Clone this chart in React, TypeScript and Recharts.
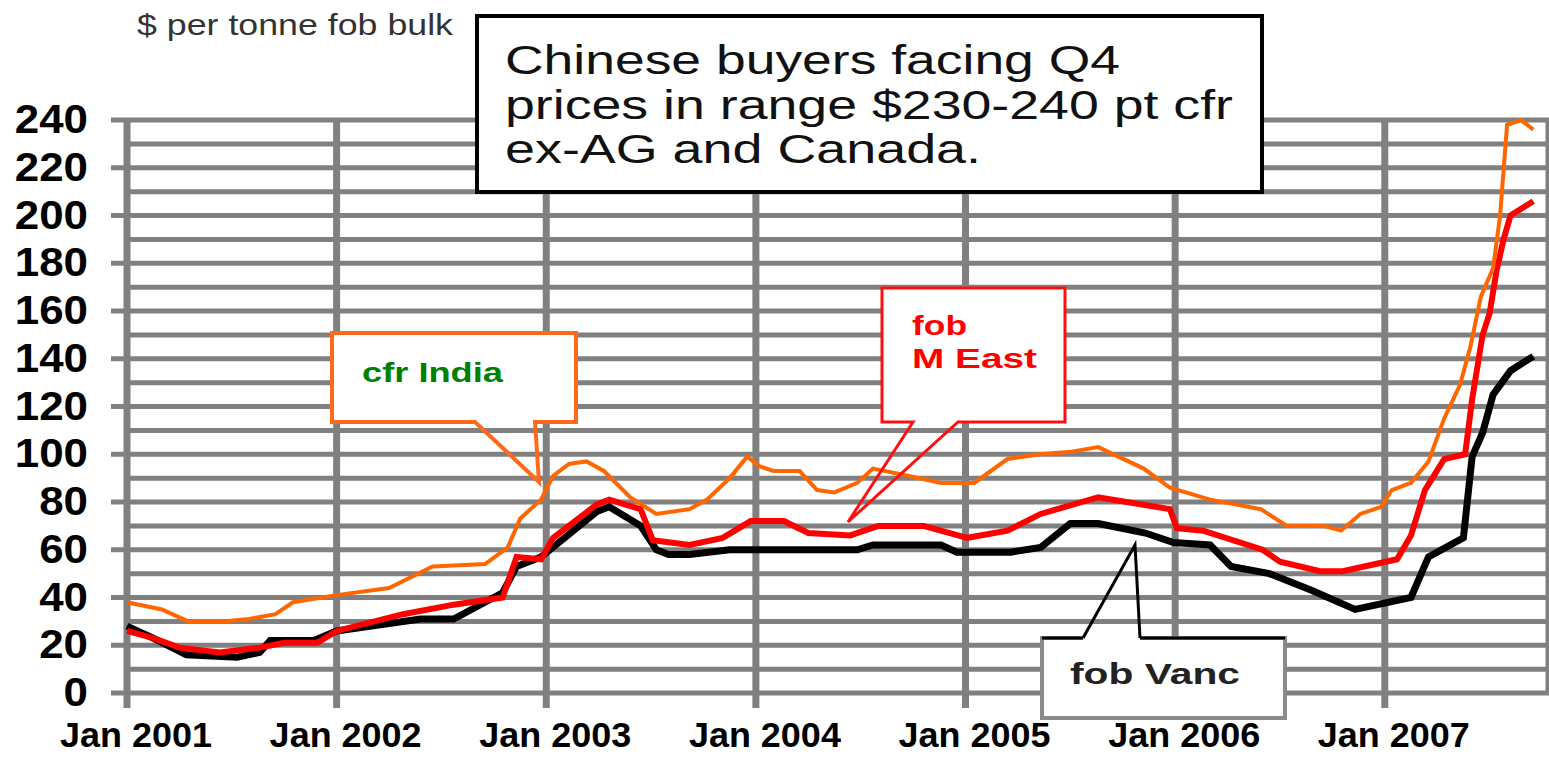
import React from "react";
import { LineChart, Line, XAxis, YAxis, CartesianGrid } from "recharts";

const FONT = "'Liberation Sans', Arial, Helvetica, sans-serif";
const GRID = "#808080";

// x = months since Jan 2001
const yearTicks = [0, 12, 24, 36, 48, 60, 72];
const yearLabels = ["Jan 2001", "Jan 2002", "Jan 2003", "Jan 2004", "Jan 2005", "Jan 2006", "Jan 2007"];
const yTicks = [0, 10, 20, 30, 40, 50, 60, 70, 80, 90, 100, 110, 120, 130, 140, 150, 160, 170, 180, 190, 200, 210, 220, 230, 240];

const cfrIndia: [number, number][] = [
  [0, 38], [2, 35], [3.5, 30], [5.5, 30], [7, 31], [8.5, 33], [9.5, 38], [12, 41], [15, 44],
  [17.5, 53], [20.5, 54], [21.8, 61], [22.5, 73], [23.7, 81], [24.4, 91], [25.3, 96], [26.3, 97],
  [27.3, 93], [28.8, 82], [30.3, 75], [32.2, 77], [33.2, 81], [34.5, 90], [35.5, 99], [36.2, 95],
  [37, 93], [38.5, 93], [39.5, 85], [40.5, 84], [41.8, 88], [42.7, 94], [44.7, 91], [46.6, 88],
  [48.5, 88], [50.4, 98], [52.3, 100], [54, 101], [55.6, 103], [58.2, 94], [59.7, 86], [62, 81],
  [64.9, 77], [66.4, 70], [68.5, 70], [69.5, 68], [70.6, 75], [71.8, 78], [72.4, 85], [73.5, 88],
  [74.5, 97], [75.4, 115], [76.3, 129], [76.9, 145], [77.5, 166], [78.2, 178], [78.6, 200],
  [79, 238], [79.8, 240], [80.5, 236],
];

const fobMEast: [number, number][] = [
  [0, 26], [1.5, 23], [3, 19], [5.3, 17], [7.6, 19], [9, 21], [10.9, 21], [12, 26], [15.8, 33],
  [18.7, 37], [21.5, 40], [22.3, 57], [23.7, 56], [24.4, 65], [26.9, 79], [27.6, 81], [29.4, 77],
  [30.1, 64], [32.2, 62], [34.1, 65], [35.7, 72], [37.6, 72], [39, 67], [41.4, 66], [43, 70],
  [45.6, 70], [48.1, 65], [50.4, 68], [52.3, 75], [55.6, 82], [59.7, 77], [60.1, 69], [61.6, 68],
  [65, 60], [66, 55], [68.3, 51], [69.6, 51], [72.7, 56], [73.5, 66], [74.3, 85], [75.4, 98],
  [76.6, 100], [77, 123], [77.6, 150], [78, 159], [78.4, 177], [78.8, 190], [79.2, 200], [80.5, 206],
];

const fobVanc: [number, number][] = [
  [0, 28], [1.5, 23], [3.4, 16], [6.3, 15], [7.6, 17], [8.2, 22], [10.7, 22], [12, 26], [16.8, 31],
  [18.7, 31], [21.5, 42], [22.3, 53], [23.7, 57], [26.9, 76], [27.6, 78], [29.4, 70], [30.3, 60],
  [31, 58], [32.2, 58], [34.5, 60], [41.8, 60], [42.7, 62], [46.6, 62], [47.5, 59], [50.6, 59],
  [52.3, 61], [54, 71], [55.6, 71], [58.3, 67], [59.9, 63], [62, 62], [63.2, 53], [65.4, 50],
  [67.8, 43], [70.3, 35], [73.5, 40], [74.5, 57], [76.5, 65], [77, 99], [77.6, 109], [78.2, 125],
  [79.2, 135], [80.5, 141],
];

const toRows = (pts: [number, number][]) => pts.map(([m, v]) => ({ m, v }));

const YTick = (props: any) => {
  const { x, y, payload } = props;
  const v = payload.value;
  if (v % 20 !== 0) return <g />;
  const label = String(v);
  const len = label.length * 24.4;
  return (
    <g>
      <line x1={x - 16} x2={x} y1={y} y2={y} stroke={GRID} strokeWidth={5} />
      <text
        x={x - 39 - len}
        y={y + 13}
        fontFamily={FONT}
        fontWeight="bold"
        fontSize={40}
        fill="#000"
        textLength={len}
        lengthAdjust="spacingAndGlyphs"
      >
        {label}
      </text>
    </g>
  );
};

const XTick = (props: any) => {
  const { x, y, payload } = props;
  const i = yearTicks.indexOf(payload.value);
  return (
    <text
      x={x + 9 - 76}
      y={y + 39}
      fontFamily={FONT}
      fontWeight="bold"
      fontSize={35}
      fill="#000"
      textLength={152}
      lengthAdjust="spacingAndGlyphs"
    >
      {yearLabels[i]}
    </text>
  );
};

const Note = ({ x, y, w, size, bold, fill, children }: any) => (
  <text
    x={x}
    y={y}
    fontFamily={FONT}
    fontSize={size}
    fontWeight={bold ? "bold" : "normal"}
    fill={fill}
    textLength={w}
    lengthAdjust="spacingAndGlyphs"
  >
    {children}
  </text>
);

const App = () => {
  return (
    <div style={{ position: "absolute", left: 0, top: 0, width: 1549, height: 757, background: "#fff", overflow: "hidden" }}>
      <LineChart width={1549} height={757} margin={{ top: 120, right: 0, bottom: 0, left: 0 }}>
        <CartesianGrid vertical={false} stroke={GRID} strokeWidth={5} />
        <CartesianGrid horizontal={false} stroke={GRID} strokeWidth={7} />
        <XAxis
          dataKey="m"
          type="number"
          domain={[0, 81.4]}
          ticks={yearTicks}
          height={64}
          axisLine={false}
          tickLine={{ stroke: GRID, strokeWidth: 7 }}
          tickSize={15}
          tickMargin={0}
          tick={<XTick />}
          interval={0}
        />
        <YAxis
          type="number"
          domain={[0, 240]}
          ticks={yTicks}
          width={127}
          axisLine={false}
          tickLine={false}
          tickSize={0}
          tickMargin={0}
          tick={<YTick />}
          interval={0}
        />
        <Line data={toRows(fobVanc)} dataKey="v" type="linear" stroke="#000000" strokeWidth={7} dot={false} isAnimationActive={false} />
        <Line data={toRows(fobMEast)} dataKey="v" type="linear" stroke="#ff0000" strokeWidth={6} dot={false} isAnimationActive={false} />
        <Line data={toRows(cfrIndia)} dataKey="v" type="linear" stroke="#ff6600" strokeWidth={4} dot={false} isAnimationActive={false} />
      </LineChart>

      <svg width={1549} height={757} style={{ position: "absolute", left: 0, top: 0, pointerEvents: "none" }}>
        <Note x={137} y={35} w={316} size={29} fill="#333">$ per tonne fob bulk</Note>

        <rect x={477} y={16} width={785} height={176} fill="#fff" stroke="#000" strokeWidth={4} />
        <Note x={505} y={74} w={615} size={40} fill="#111">Chinese buyers facing Q4</Note>
        <Note x={505} y={119} w={728} size={40} fill="#111">prices in range $230-240 pt cfr</Note>
        <Note x={505} y={163} w={476} size={40} fill="#111">ex-AG and Canada.</Note>

        <rect x={332} y={333} width={244} height={89} fill="#fff" />
        <path d="M475,422 L332,422 L332,333 L576,333 L576,422 L535,422 L539,482 Z" fill="none" stroke="#ff6a1a" strokeWidth={4} />
        <Note x={362} y={382} w={141} size={28} bold fill="#008000">cfr India</Note>

        <rect x={882} y={288} width={183} height={134} fill="#fff" />
        <path d="M913,422 L882,422 L882,288 L1065,288 L1065,422 L958,422 L848,522 Z" fill="none" stroke="#ff1010" strokeWidth={3} />
        <Note x={912} y={335} w={55} size={28} bold fill="#ff0000">fob</Note>
        <Note x={912} y={368} w={125} size={28} bold fill="#ff0000">M East</Note>

        <rect x={1042} y={638} width={243} height={80} fill="#fff" stroke="#8a8a8a" strokeWidth={4} />
        <line x1={1042} y1={638} x2={1285} y2={638} stroke="#000" strokeWidth={3} />
        <line x1={1083} y1={638} x2={1140} y2={638} stroke="#fff" strokeWidth={5} />
        <path d="M1083,638 L1135,545 L1140,638" fill="none" stroke="#000" strokeWidth={3} />
        <Note x={1070} y={684} w={170} size={29} bold fill="#222">fob Vanc</Note>
      </svg>
    </div>
  );
};

export default App;
